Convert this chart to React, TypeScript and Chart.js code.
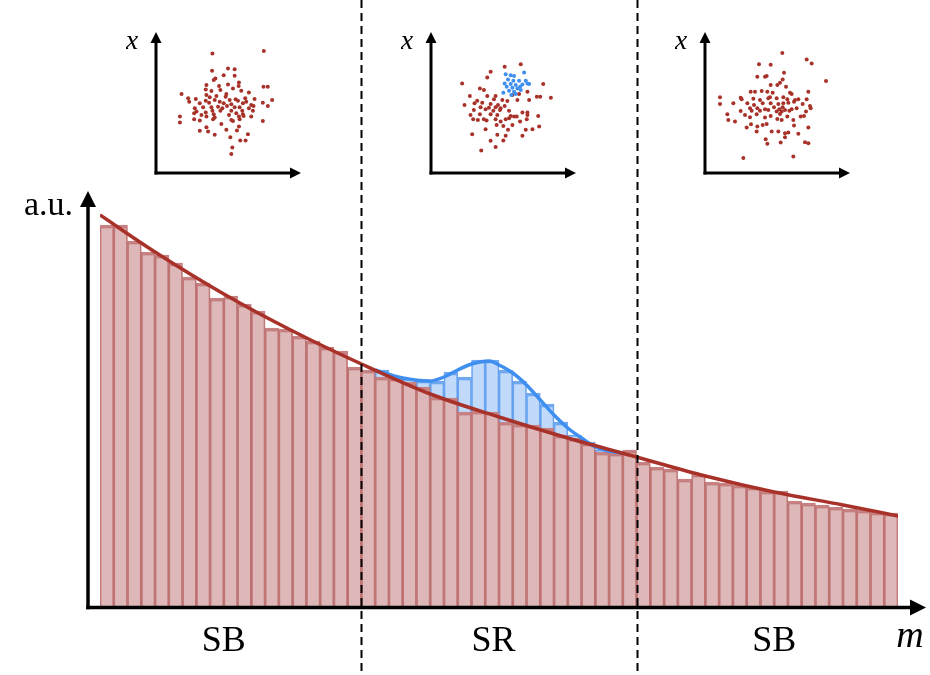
import React, { useEffect, useRef } from "react";
import { Chart, registerables } from "chart.js";

Chart.register(...registerables);

// ---------- main histogram data (arbitrary units) ----------
const binLabels = Array.from({ length: 58 }, (_, i) => `bin ${i + 1}`);

const backgroundCounts = [
  381, 381, 365, 354, 351, 343, 329, 323, 308, 310, 302, 295, 278, 277, 270, 265, 259, 255, 239,
  236, 229, 228, 224, 219, 209, 208, 194, 195, 194, 184, 182, 181, 178, 171, 168, 163, 154, 153, 156,
  144, 139, 137, 127, 132, 124, 123, 121, 119, 115, 115, 105, 103, 101, 99, 97, 96, 94, 93,
];

const signalCounts = [
  0, 0, 0, 0, 0, 0, 0, 0, 0, 0, 0, 0, 0, 0, 0, 0, 0, 0, 0,
  0, 7, 1, 3, 7, 16, 26, 35, 51, 52, 52, 43, 32, 24, 13, 3, 1, 2, 2, 0,
  0, 0, 0, 0, 0, 0, 0, 0, 0, 0, 0, 0, 0, 0, 0, 0, 0, 0, 0,
];

// background fit curve (bin coordinate, value)
const fitX = [0, 4, 9, 14, 19, 24, 29, 34, 39, 44, 49, 54, 58];
const fitY = [391, 354, 312, 275, 242, 212, 189, 168, 149, 130, 114, 101, 90];

// signal + background curve (bin coordinate, value)
const sigCurveX = [20, 22, 24, 25, 26, 27, 28.3, 29, 30, 31, 32, 33, 34, 35, 36, 37, 38];
const sigCurveY = [236, 228, 225, 229, 236, 242, 245, 241, 233, 221, 206, 191, 178, 168, 159, 155, 153];

const regionEdges = [19, 39];
const regionLabels = ["SB", "SR", "SB"];
const regionLabelPos = [9, 28.6, 49];

// ---------- inset scatter data ----------
const inset1Red: [number, number][] = [
  [338, 100], [493, 92], [385, 145], [405, 147], [337, 152], [372, 165], [405, 167], [347, 175], [342, 180],
  [320, 195], [358, 198], [385, 193], [418, 187], [417, 198], [492, 200], [505, 200], [318, 208], [335, 213],
  [362, 210], [400, 205], [425, 212], [448, 217], [245, 222], [380, 222], [320, 225], [350, 228], [378, 230],
  [265, 235], [288, 237], [330, 232], [408, 238], [437, 235], [465, 237], [518, 240], [268, 245], [318, 242],
  [345, 240], [360, 245], [390, 240], [415, 242], [440, 245], [490, 248], [300, 250], [328, 248], [372, 250],
  [395, 253], [430, 250], [455, 255], [462, 258], [505, 258], [285, 265], [310, 262], [335, 262], [355, 260],
  [368, 265], [382, 258], [405, 262], [420, 262], [448, 265], [290, 275], [318, 278], [338, 272], [362, 272],
  [395, 272], [428, 272], [460, 272], [283, 280], [305, 285], [342, 283], [388, 285], [410, 280], [430, 283],
  [240, 290], [320, 290], [345, 293], [418, 290], [432, 288], [455, 290], [283, 298], [300, 302], [340, 298],
  [400, 303], [420, 298], [490, 303], [240, 308], [395, 300], [365, 312], [320, 322], [418, 320], [300, 333],
  [325, 335], [380, 330], [412, 332], [345, 345], [445, 343], [392, 352], [422, 362], [438, 362], [398, 383],
  [395, 403],
];

const inset2Red: [number, number][] = [
  [420, 132], [372, 140], [330, 155], [320, 172], [245, 190], [487, 192], [298, 205], [310, 210], [440, 215],
  [268, 228], [320, 228], [345, 228], [395, 225], [415, 222], [468, 230], [478, 230], [510, 233], [290, 242],
  [340, 238], [365, 240], [380, 243], [410, 240], [445, 240], [252, 255], [282, 250], [305, 248], [330, 252],
  [352, 255], [372, 258], [300, 262], [325, 263], [345, 262], [360, 265], [280, 270], [315, 268], [338, 272],
  [358, 270], [385, 272], [425, 278], [440, 278], [270, 285], [298, 283], [330, 283], [350, 285], [390, 288],
  [400, 290], [408, 290], [440, 285], [472, 288], [292, 300], [310, 298], [345, 298], [375, 298], [385, 295],
  [438, 298], [278, 298], [318, 302], [360, 305], [348, 315], [368, 318], [395, 315], [418, 305], [475, 320],
  [455, 328], [435, 330], [315, 328], [382, 330], [275, 343], [350, 345], [375, 348], [425, 348], [330, 363],
  [368, 362], [345, 382], [302, 392],
];

const inset2Blue: [number, number][] = [
  [375, 162], [390, 165], [400, 168], [430, 157], [382, 178], [398, 182], [415, 182], [435, 182], [372, 190],
  [390, 192], [405, 195], [425, 193], [445, 192], [395, 203], [410, 205], [420, 210], [385, 212], [400, 215],
  [368, 218], [440, 190], [418, 200], [378, 200], [405, 222], [392, 225],
];

const inset3Red: [number, number][] = [
  [397, 98], [470, 118], [485, 130], [327, 132], [362, 134], [402, 158], [322, 170], [345, 170], [350, 168],
  [398, 178], [390, 188], [382, 195], [362, 195], [528, 183], [408, 200], [302, 215], [315, 215], [335, 213],
  [352, 215], [368, 218], [420, 218], [425, 222], [475, 215], [272, 233], [275, 238], [310, 236], [330, 240],
  [355, 235], [360, 232], [380, 235], [400, 232], [412, 238], [435, 240], [445, 238], [470, 238], [210, 232],
  [250, 250], [292, 250], [312, 255], [338, 250], [362, 250], [385, 252], [400, 250], [415, 248], [432, 245],
  [458, 252], [210, 252], [300, 265], [322, 265], [345, 268], [372, 262], [388, 268], [398, 262], [405, 270],
  [425, 268], [440, 265], [480, 258], [272, 273], [305, 272], [330, 272], [355, 270], [380, 275], [395, 275],
  [418, 272], [468, 275], [482, 265], [232, 283], [285, 285], [320, 283], [362, 288], [390, 282], [412, 290],
  [452, 290], [462, 288], [235, 300], [255, 305], [300, 292], [345, 293], [382, 297], [395, 300], [430, 300],
  [303, 313], [290, 323], [322, 320], [338, 315], [350, 312], [432, 317], [475, 323], [320, 335], [365, 335],
  [385, 335], [405, 340], [415, 338], [445, 342], [405, 352], [347, 358], [352, 372], [392, 368], [465, 367],
  [475, 370], [280, 415], [430, 410],
];

const RED = "#a8322a";
const BLUE = "#3f8ff0";
const SERIF = '"Liberation Serif", "Times New Roman", serif';

const mainDecor = {
  id: "mainDecor",
  afterDraw(chart: any) {
    const { ctx, chartArea: a, scales } = chart;
    const xl = scales.xl;
    ctx.save();
    ctx.strokeStyle = "#000";
    ctx.fillStyle = "#000";
    const ax = a.left - 12;
    const ay = a.bottom + 1.5;
    ctx.lineWidth = 3.5;
    ctx.beginPath();
    ctx.moveTo(ax, ay + 1.75);
    ctx.lineTo(ax, 205);
    ctx.stroke();
    ctx.beginPath();
    ctx.moveTo(ax, 191);
    ctx.lineTo(ax - 8, 207);
    ctx.lineTo(ax + 8, 207);
    ctx.closePath();
    ctx.fill();
    ctx.beginPath();
    ctx.moveTo(ax - 1.75, ay);
    ctx.lineTo(912, ay);
    ctx.stroke();
    ctx.beginPath();
    ctx.moveTo(926, ay);
    ctx.lineTo(910, ay - 8);
    ctx.lineTo(910, ay + 8);
    ctx.closePath();
    ctx.fill();

    ctx.lineWidth = 2;
    ctx.setLineDash([8, 5]);
    for (const e of regionEdges) {
      const px = Math.round(xl.getPixelForValue(e)) + 0.5;
      ctx.beginPath();
      ctx.moveTo(px, 0);
      ctx.lineTo(px, chart.height);
      ctx.stroke();
    }
    ctx.setLineDash([]);

    ctx.font = `36px ${SERIF}`;
    ctx.textAlign = "center";
    ctx.textBaseline = "alphabetic";
    regionLabels.forEach((t, i) => {
      ctx.fillText(t, xl.getPixelForValue(regionLabelPos[i]), 651);
    });
    ctx.font = `italic 38px ${SERIF}`;
    ctx.fillText("m", 910, 647);
    ctx.font = `34px ${SERIF}`;
    ctx.textAlign = "right";
    ctx.fillText("a.u.", 73, 215);
    ctx.restore();
  },
};

const insetAxes = {
  id: "insetAxes",
  afterDraw(chart: any) {
    const { ctx, chartArea: a } = chart;
    ctx.save();
    ctx.strokeStyle = "#000";
    ctx.fillStyle = "#000";
    ctx.lineWidth = 3;
    ctx.beginPath();
    ctx.moveTo(a.left, a.bottom + 1.5);
    ctx.lineTo(a.left, a.top + 8);
    ctx.stroke();
    ctx.beginPath();
    ctx.moveTo(a.left - 1.5, a.bottom);
    ctx.lineTo(a.right - 8, a.bottom);
    ctx.stroke();
    ctx.beginPath();
    ctx.moveTo(a.left, a.top);
    ctx.lineTo(a.left - 5.5, a.top + 11);
    ctx.lineTo(a.left + 5.5, a.top + 11);
    ctx.closePath();
    ctx.fill();
    ctx.beginPath();
    ctx.moveTo(a.right, a.bottom);
    ctx.lineTo(a.right - 11, a.bottom - 5.5);
    ctx.lineTo(a.right - 11, a.bottom + 5.5);
    ctx.closePath();
    ctx.fill();
    ctx.font = `italic 28px ${SERIF}`;
    ctx.textAlign = "center";
    ctx.textBaseline = "alphabetic";
    ctx.fillText("x", a.left - 24, a.top + 17);
    ctx.restore();
  },
};

function MainChart() {
  const ref = useRef<HTMLCanvasElement>(null);
  useEffect(() => {
    const chart = new Chart(ref.current as HTMLCanvasElement, {
      type: "bar",
      data: {
        labels: binLabels,
        datasets: [
          {
            type: "line",
            label: "background fit",
            data: fitX.map((x, i) => ({ x, y: fitY[i] })),
            xAxisID: "xl",
            yAxisID: "yl",
            borderColor: RED,
            borderWidth: 3.5,
            pointRadius: 0,
            cubicInterpolationMode: "monotone",
            fill: false,
            order: 0,
          },
          {
            type: "line",
            label: "signal + background",
            data: sigCurveX.map((x, i) => ({ x, y: sigCurveY[i] })),
            xAxisID: "xl",
            yAxisID: "yl",
            borderColor: BLUE,
            borderWidth: 3.5,
            pointRadius: 0,
            cubicInterpolationMode: "monotone",
            fill: false,
            order: 0,
          },
          {
            type: "bar",
            label: "background",
            data: backgroundCounts,
            xAxisID: "x",
            yAxisID: "y",
            stack: "h",
            grouped: false,
            backgroundColor: "rgba(165,62,62,0.37)",
            borderColor: "rgba(165,55,55,0.62)",
            borderWidth: { top: 3, left: 1, right: 1, bottom: 0 },
            barPercentage: 1,
            categoryPercentage: 1,
            order: 1,
          },
          {
            type: "bar",
            label: "signal",
            data: signalCounts,
            xAxisID: "x",
            yAxisID: "y",
            stack: "h",
            grouped: false,
            backgroundColor: "rgba(80,150,240,0.35)",
            borderColor: "rgba(66,140,235,0.75)",
            borderWidth: { top: 3, left: 1, right: 1, bottom: 0 },
            barPercentage: 1,
            categoryPercentage: 1,
            order: 2,
          },
        ],
      } as any,
      options: {
        responsive: false,
        animation: false,
        layout: { padding: { left: 100, right: 32, top: 206, bottom: 69 } },
        plugins: { legend: { display: false }, tooltip: { enabled: false } },
        scales: {
          x: { type: "category", display: false, stacked: true, offset: true },
          y: { type: "linear", display: false, stacked: true, min: 0, max: 400 },
          xl: { type: "linear", display: false, min: 0, max: 58, offset: false },
          yl: { type: "linear", display: false, min: 0, max: 400 },
        },
      } as any,
      plugins: [mainDecor],
    });
    return () => chart.destroy();
  }, []);
  return (
    <canvas
      ref={ref}
      width={930}
      height={675}
      style={{ position: "absolute", left: 0, top: 0, width: 930, height: 675 }}
    />
  );
}

function Inset(props: { left: number; red: [number, number][]; blue: [number, number][]; xMin: number; xMax: number }) {
  const ref = useRef<HTMLCanvasElement>(null);
  useEffect(() => {
    const chart = new Chart(ref.current as HTMLCanvasElement, {
      type: "scatter",
      data: {
        datasets: [
          {
            label: "signal",
            data: props.blue.map(([x, y]) => ({ x, y })),
            pointRadius: 2,
            pointBackgroundColor: BLUE,
            pointBorderWidth: 0,
          },
          {
            label: "background",
            data: props.red.map(([x, y]) => ({ x, y })),
            pointRadius: 2,
            pointBackgroundColor: RED,
            pointBorderWidth: 0,
          },
        ],
      } as any,
      options: {
        responsive: false,
        animation: false,
        layout: { padding: { left: 30, right: 15, top: 12, bottom: 12 } },
        plugins: { legend: { display: false }, tooltip: { enabled: false } },
        scales: {
          x: { type: "linear", display: false, min: props.xMin, max: props.xMax },
          y: { type: "linear", display: false, min: 35, max: 460, reverse: true },
        },
      } as any,
      plugins: [insetAxes],
    });
    return () => chart.destroy();
  }, []);
  return (
    <canvas
      ref={ref}
      width={190}
      height={165}
      style={{ position: "absolute", left: props.left, top: 20, width: 190, height: 165 }}
    />
  );
}

export default function App() {
  return (
    <div
      style={{
        position: "fixed",
        left: 0,
        top: 0,
        width: 930,
        height: 675,
        background: "#fff",
        overflow: "hidden",
      }}
    >
      <MainChart />
      <Inset left={126} red={inset1Red} blue={[]} xMin={168} xMax={605} />
      <Inset left={401} red={inset2Red} blue={inset2Blue} xMin={152} xMax={585} />
      <Inset left={675} red={inset3Red} blue={[]} xMin={165} xMax={600} />
    </div>
  );
}
